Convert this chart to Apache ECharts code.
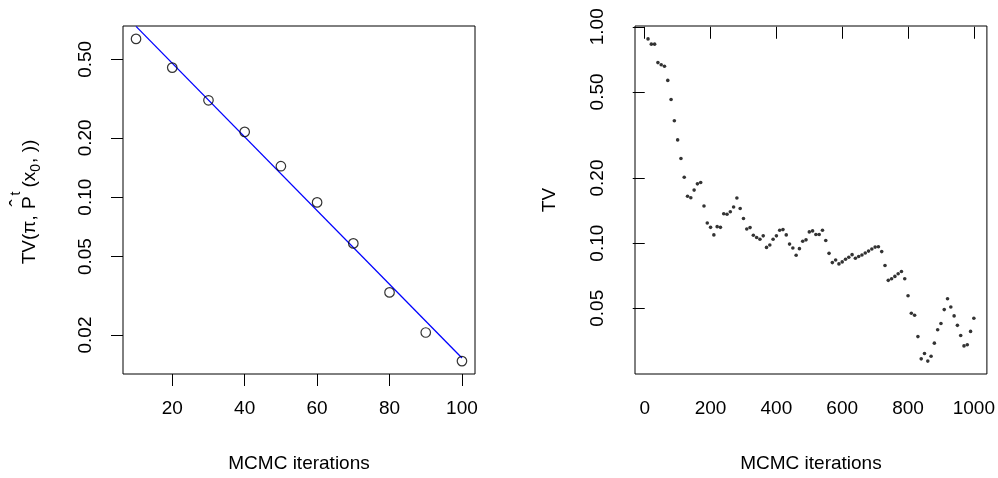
<!DOCTYPE html>
<html><head><meta charset="utf-8">
<script src="https://cdn.jsdelivr.net/npm/echarts@6/dist/echarts.min.js"></script>
<style>html,body{margin:0;padding:0;background:#fff}#c{width:998px;height:478px}</style>
</head><body><div id="c"></div>
<script>
// ---------- data ----------
const leftIter = [10, 20, 30, 40, 50, 60, 70, 80, 90, 100];
const leftTV = [0.635, 0.454, 0.310, 0.2144, 0.1436, 0.0941, 0.0583, 0.0329, 0.0206, 0.01475];
const fitIter = [10, 100];
const fitTV = [0.735, 0.0153];
const leftXTicks = [20, 40, 60, 80, 100];
const leftYTicks = [0.5, 0.2, 0.1, 0.05, 0.02];

const rightIter = [10,20,30,40,50,60,70,80,90,100,110,120,130,140,150,160,170,180,190,200,
  210,220,230,240,250,260,270,280,290,300,310,320,330,340,350,360,370,380,390,400,
  410,420,430,440,450,460,470,480,490,500,510,520,530,540,550,560,570,580,590,600,
  610,620,630,640,650,660,670,680,690,700,710,720,730,740,750,760,770,780,790,800,
  810,820,830,840,850,860,870,880,890,900,910,920,930,940,950,960,970,980,990,1000];
const rightTV = [0.879,0.831,0.831,0.683,0.668,0.657,0.565,0.461,0.368,0.300,
  0.246,0.2016,0.1646,0.162,0.1759,0.188,0.1907,0.1486,0.1239,0.1183,
  0.1092,0.1192,0.1183,0.1367,0.136,0.1396,0.147,0.1617,0.1445,0.130,
  0.1163,0.118,0.1088,0.1062,0.1043,0.1081,0.0956,0.098,0.1043,0.1081,
  0.1147,0.1155,0.1092,0.0990,0.0949,0.0879,0.0943,0.1021,0.1036,0.1127,
  0.1139,0.1096,0.1096,0.1147,0.1029,0.0897,0.0813,0.0836,0.0802,0.0819,
  0.0842,0.0860,0.0885,0.0851,0.0867,0.0882,0.0900,0.0919,0.0939,0.0959,
  0.0963,0.0914,0.0788,0.0673,0.0685,0.0702,0.0722,0.0740,0.0685,0.0571,
  0.0474,0.0464,0.0370,0.0292,0.0309,0.0285,0.0300,0.0345,0.0398,0.0425,
  0.0493,0.0553,0.0507,0.0461,0.0417,0.0374,0.0335,0.0339,0.0391,0.0450];
const rightXTicks = [0, 200, 400, 600, 800, 1000];
const rightYTicks = [1, 0.5, 0.2, 0.1, 0.05];
const xTitle = 'MCMC iterations';
const rightYTitle = 'TV';

// ---------- helpers ----------
const L = Math.log10;
const FONT = '"Liberation Sans", Arial, Helvetica, sans-serif';
const FS = 19;
function rRange(vals) { // R-style 4% expansion
  const mn = Math.min(...vals), mx = Math.max(...vals), d = (mx - mn) * 0.04;
  return [mn - d, mx + d];
}
const lxr = rRange(leftIter), rxr = rRange(rightIter);
const lyr = rRange(leftTV.map(L)), ryr = rRange(rightTV.map(L));
const fmt = v => Math.pow(10, v).toFixed(2);

function xAxis(gi, rng, ticks) {
  return {
    gridIndex: gi, type: 'value', min: rng[0], max: rng[1],
    axisLine: { show: false },
    axisTick: { show: true, length: 12, lineStyle: { color: '#000', width: 1 }, customValues: ticks },
    axisLabel: { customValues: ticks, margin: 25, color: '#000', fontSize: FS, fontFamily: FONT, formatter: v => String(v) },
    splitLine: { show: false },
    name: xTitle, nameLocation: 'middle', nameGap: 80,
    nameTextStyle: { color: '#000', fontSize: FS, fontFamily: FONT }
  };
}
function yAxis(gi, rng, ticks, name) {
  const tv = ticks.map(L);
  const o = {
    gridIndex: gi, type: 'value', min: rng[0], max: rng[1],
    axisLine: { show: false },
    axisTick: { show: true, length: 12, lineStyle: { color: '#000', width: 1 }, customValues: tv },
    axisLabel: { customValues: tv, rotate: 90, margin: 28, color: '#000', fontSize: FS, fontFamily: FONT, formatter: fmt },
    splitLine: { show: false }
  };
  if (name) {
    o.name = name; o.nameLocation = 'middle'; o.nameGap = 76; o.nameRotate = 90;
    o.nameTextStyle = { color: '#000', fontSize: FS, fontFamily: FONT };
  }
  return o;
}

// ---------- left y title (plotmath-like) ----------
const ctx = document.createElement('canvas').getContext('2d');
function tw(t, fs) { ctx.font = fs + 'px ' + FONT; return ctx.measureText(t).width; }
const pieces = [
  { t: 'TV(π, ', fs: FS, dy: 0, gap: 0 },
  { t: 'P', fs: FS, dy: 0, gap: 1, hat: true },
  { t: 't', fs: 14, dy: -14, gap: 1 },
  { t: '(x', fs: FS, dy: 0, gap: 4 },
  { t: '0', fs: 14, dy: 6, gap: 0 },
  { t: ', ))', fs: FS, dy: 0, gap: 1 }
];
let pos = 0; const kids = [];
pieces.forEach(p => {
  pos += p.gap;
  const w = tw(p.t, p.fs);
  kids.push({ type: 'text', x: pos, y: p.dy, silent: true, style: { text: p.t, fontSize: p.fs, fontFamily: FONT, fill: '#000', align: 'left', verticalAlign: 'middle' } });
  if (p.hat) kids.push({ type: 'text', x: pos + w / 2, y: -11, silent: true, style: { text: 'ˆ', fontSize: 22, fontFamily: FONT, fill: '#000', align: 'center', verticalAlign: 'middle' } });
  pos += w;
});
const titleLen = pos;

const chart = echarts.init(document.getElementById('c'), null, { renderer: 'canvas' });
chart.setOption({
  animation: false,
  backgroundColor: '#fff',
  grid: [
    { left: 123, top: 26, width: 352, height: 352, show: true, borderColor: '#000', borderWidth: 1, backgroundColor: 'transparent' },
    { left: 635, top: 26, width: 352, height: 351, show: true, borderColor: '#000', borderWidth: 1, backgroundColor: 'transparent' }
  ],
  xAxis: [xAxis(0, lxr, leftXTicks), xAxis(1, rxr, rightXTicks)],
  yAxis: [yAxis(0, lyr, leftYTicks, null), yAxis(1, ryr, rightYTicks, rightYTitle)],
  graphic: [{
    type: 'group', x: 30, y: 202 + titleLen / 2, rotation: Math.PI / 2,
    children: kids
  }],
  series: [
    { type: 'line', xAxisIndex: 0, yAxisIndex: 0, data: fitIter.map((x, i) => [x, L(fitTV[i])]),
      color: '#0000ff', showSymbol: false, symbol: 'none', silent: true,
      itemStyle: { color: '#0000ff' },
      lineStyle: { color: '#0000ff', width: 1.3, opacity: 1 },
      emphasis: { disabled: true }, clip: true, z: 2 },
    { type: 'scatter', xAxisIndex: 0, yAxisIndex: 0, data: leftIter.map((x, i) => [x, L(leftTV[i])]),
      symbol: 'circle', symbolSize: 9.5, silent: true,
      itemStyle: { color: 'rgba(0,0,0,0)', borderColor: '#000', borderWidth: 1.2 }, z: 3 },
    { type: 'scatter', xAxisIndex: 1, yAxisIndex: 1, data: rightIter.map((x, i) => [x, L(rightTV[i])]),
      symbol: 'circle', symbolSize: 3.6, silent: true, itemStyle: { color: '#000' }, z: 3 }
  ]
});
</script></body></html>
